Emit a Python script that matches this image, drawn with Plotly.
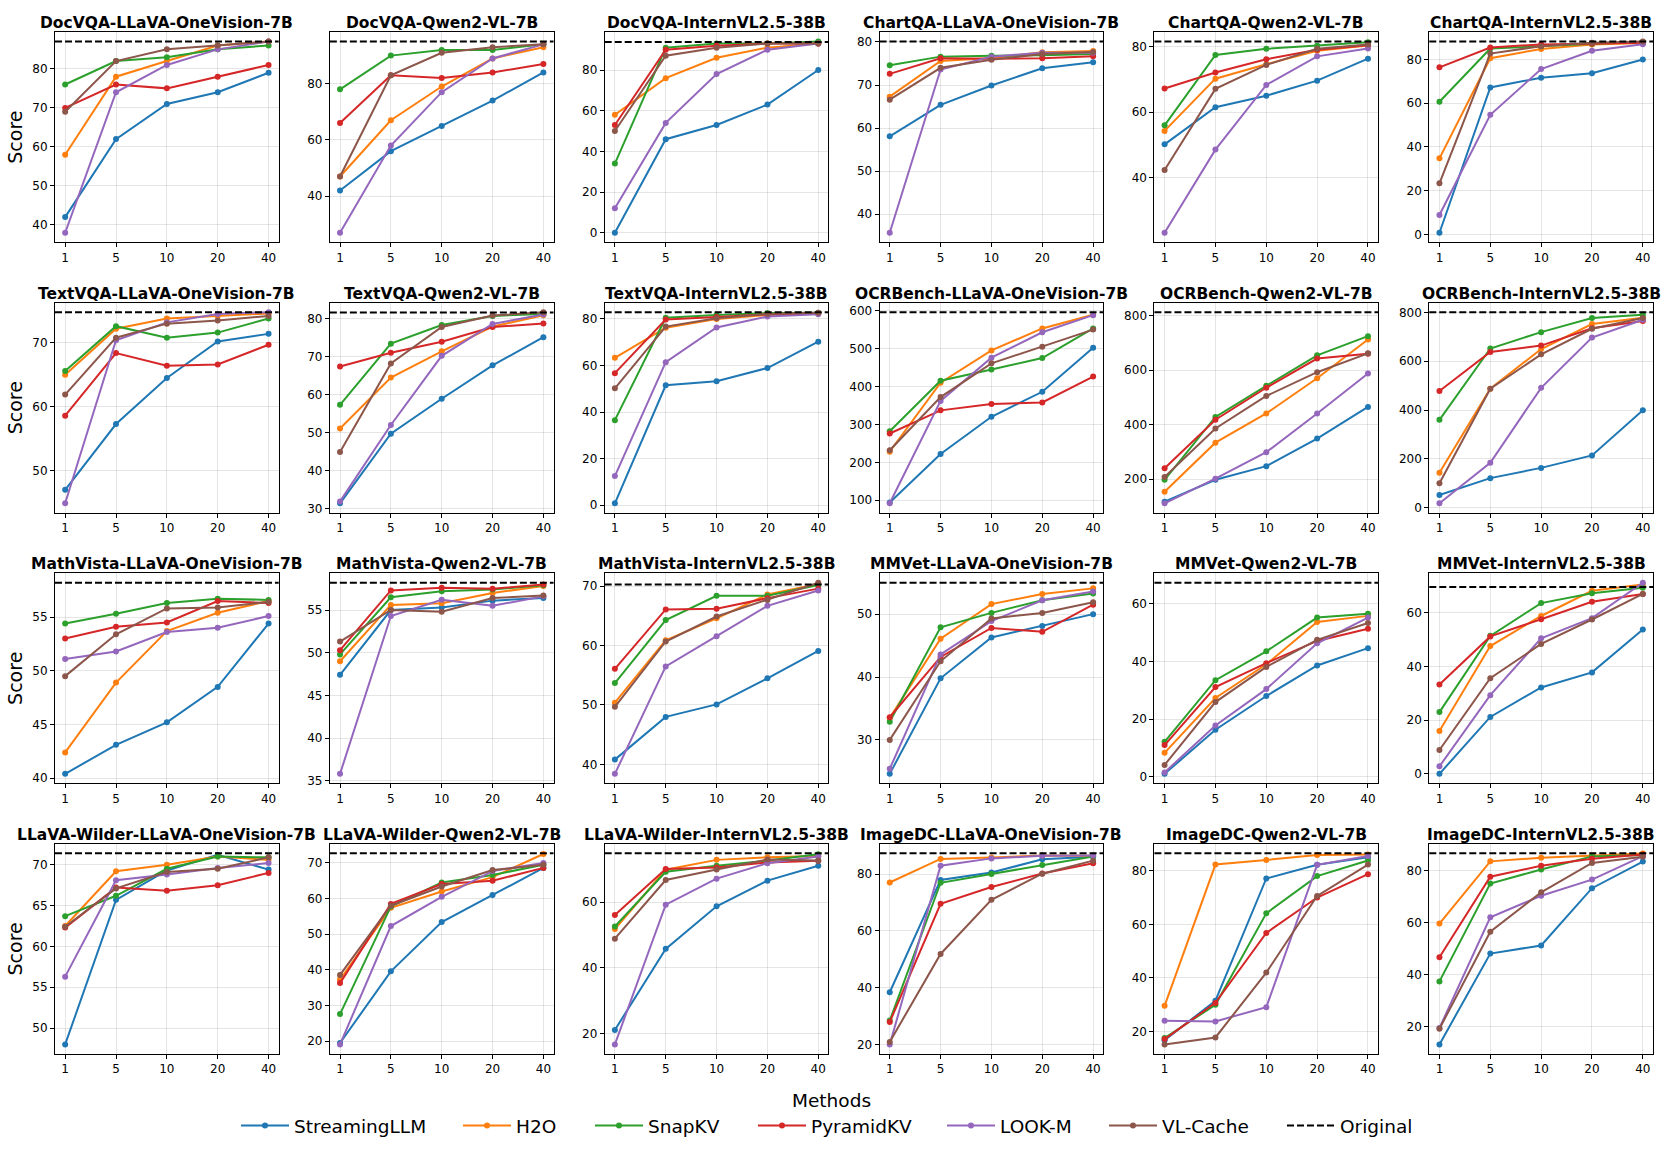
import plotly.graph_objects as go
from plotly.subplots import make_subplots

BUDGETS = ["1", "5", "10", "20", "40"]
BENCHMARKS = ["DocVQA", "ChartQA", "TextVQA", "OCRBench", "MathVista", "MMVet", "LLaVA-Wilder", "ImageDC"]
MODELS = ["LLaVA-OneVision-7B", "Qwen2-VL-7B", "InternVL2.5-38B"]
PANEL_TITLES = [f"{b}-{m}" for b in BENCHMARKS for m in MODELS]

METHODS = ["StreamingLLM", "H2O", "SnapKV", "PyramidKV", "LOOK-M", "VL-Cache"]
COLORS = ["#1f77b4", "#ff7f0e", "#2ca02c", "#d62728", "#9467bd", "#8c564b"]

# one row per panel, in PANEL_TITLES order; columns follow BUDGETS
STREAMINGLLM = [
    [42, 62, 71, 74, 79],
    [42, 56, 65, 74, 84],
    [0, 46, 53, 63, 80],
    [58.1, 65.4, 69.9, 73.9, 75.3],
    [50.2, 61.5, 65.0, 69.6, 76.3],
    [0.8, 67.2, 71.7, 73.7, 80.0],
    [47.0, 57.3, 64.5, 70.2, 71.4],
    [31.5, 49.8, 59.0, 67.8, 75.2],
    [0.8, 51.5, 53.2, 58.9, 70.2],
    [94, 222, 320, 386, 502],
    [118, 198, 248, 349, 465],
    [52, 121, 163, 214, 399],
    [40.4, 43.1, 45.2, 48.5, 54.4],
    [47.4, 55.0, 55.3, 56.1, 56.4],
    [40.8, 48.0, 50.1, 54.5, 59.1],
    [24.6, 39.8, 46.3, 48.1, 50.0],
    [1.0, 16.3, 28.0, 38.6, 44.6],
    [0.0, 21.2, 32.2, 37.8, 53.8],
    [48.0, 65.7, 69.3, 71.2, 69.4],
    [19.5, 39.6, 53.4, 61.0, 68.6],
    [21.2, 45.8, 58.7, 66.5, 71.0],
    [38.4, 78.0, 80.6, 85.3, 86.2],
    [16.8, 31.5, 77.1, 82.2, 85.0],
    [13.3, 48.2, 51.3, 73.3, 83.5],
]
H2O = [
    [58, 78, 82, 86, 87],
    [47, 67, 79, 89, 93],
    [58, 76, 86, 91, 93],
    [67.3, 75.6, 76.3, 77.6, 77.9],
    [54.3, 70.2, 74.6, 78.7, 80.3],
    [34.8, 80.6, 84.8, 86.9, 87.5],
    [65.0, 72.2, 73.8, 74.2, 74.6],
    [51.2, 64.6, 71.5, 78.0, 81.0],
    [63.3, 76.2, 79.9, 81.7, 82.3],
    [228, 410, 495, 553, 589],
    [154, 334, 441, 570, 712],
    [143, 487, 650, 752, 778],
    [42.4, 48.9, 53.7, 55.4, 56.5],
    [49.0, 55.6, 55.8, 57.0, 57.8],
    [50.4, 60.9, 64.6, 68.6, 70.4],
    [33.5, 46.1, 51.6, 53.2, 54.1],
    [8.3, 27.3, 39.0, 53.7, 55.8],
    [16.0, 47.6, 58.8, 68.2, 70.5],
    [62.5, 69.2, 70.0, 71.0, 70.6],
    [37.3, 57.4, 62.0, 66.0, 72.5],
    [51.8, 69.8, 72.8, 73.6, 74.0],
    [77.1, 85.4, 85.9, 86.6, 86.5],
    [29.6, 82.3, 84.0, 85.9, 86.0],
    [59.7, 83.6, 85.0, 85.8, 86.6],
]
SNAPKV = [
    [76, 82, 83, 85, 86],
    [78, 90, 92, 92, 94],
    [34, 91, 93, 93, 94],
    [74.6, 76.6, 76.8, 76.9, 77.2],
    [56.0, 77.4, 79.3, 80.2, 81.3],
    [60.7, 85.0, 86.0, 87.2, 88.0],
    [65.6, 72.6, 70.8, 71.6, 73.8],
    [57.4, 73.5, 78.4, 80.8, 81.3],
    [36.5, 80.5, 81.7, 82.5, 82.6],
    [282, 415, 445, 475, 553],
    [198, 428, 542, 654, 724],
    [360, 652, 719, 777, 790],
    [54.4, 55.3, 56.3, 56.7, 56.6],
    [49.8, 56.5, 57.2, 57.4, 57.9],
    [53.7, 64.3, 68.4, 68.4, 70.2],
    [32.9, 47.9, 50.2, 52.2, 53.3],
    [12.1, 33.5, 43.5, 55.2, 56.5],
    [23.0, 51.4, 63.6, 67.3, 69.3],
    [63.7, 66.2, 69.5, 71.0, 70.9],
    [27.6, 57.8, 64.5, 66.6, 69.5],
    [52.6, 69.2, 71.0, 72.6, 74.5],
    [28.4, 77.0, 80.1, 83.3, 86.3],
    [17.6, 30.0, 64.1, 78.0, 83.8],
    [37.5, 75.1, 80.5, 85.5, 86.0],
]
PYRAMIDKV = [
    [70, 76, 75, 78, 81],
    [66, 83, 82, 84, 87],
    [53, 90, 92, 93, 93],
    [72.6, 76.2, 76.1, 76.2, 76.7],
    [67.2, 72.1, 76.1, 79.0, 80.4],
    [76.4, 85.5, 86.9, 87.3, 87.6],
    [58.6, 68.4, 66.4, 66.6, 69.7],
    [67.5, 71.1, 74.0, 77.9, 78.8],
    [56.7, 79.7, 80.8, 82.0, 82.4],
    [276, 337, 354, 358, 426],
    [240, 418, 535, 642, 660],
    [478, 638, 664, 735, 765],
    [53.0, 54.1, 54.5, 56.5, 56.3],
    [50.3, 57.3, 57.6, 57.5, 58.0],
    [56.1, 66.1, 66.2, 68.0, 69.6],
    [33.6, 43.2, 47.8, 47.2, 51.5],
    [11.0, 31.1, 39.4, 47.1, 51.3],
    [33.3, 51.2, 57.6, 64.1, 67.0],
    [62.3, 67.2, 66.8, 67.5, 69.0],
    [36.3, 58.5, 64.1, 65.0, 68.6],
    [56.1, 70.0, 70.5, 72.0, 72.5],
    [27.9, 69.6, 75.5, 80.3, 83.9],
    [17.2, 30.7, 56.8, 70.0, 78.7],
    [46.8, 77.7, 81.9, 84.6, 86.2],
]
LOOKM = [
    [38, 74, 81, 85, 87],
    [27, 58, 77, 89, 94],
    [12, 54, 78, 90, 93],
    [35.7, 73.6, 76.6, 77.5, 77.5],
    [23.3, 48.6, 68.3, 77.0, 79.4],
    [8.9, 54.7, 75.6, 84.0, 87.0],
    [44.9, 70.4, 73.2, 74.5, 74.8],
    [32.0, 52.1, 70.3, 78.7, 81.2],
    [12.5, 61.4, 76.3, 81.0, 82.0],
    [92, 362, 476, 543, 588],
    [112, 202, 299, 441, 587],
    [18, 184, 491, 697, 770],
    [51.1, 51.8, 53.6, 54.0, 55.1],
    [35.8, 54.3, 56.2, 55.5, 56.6],
    [38.4, 56.5, 61.6, 66.7, 69.3],
    [25.4, 43.6, 48.9, 52.2, 53.6],
    [1.5, 17.8, 30.4, 46.3, 55.2],
    [2.8, 29.3, 50.5, 58.0, 71.2],
    [56.3, 68.1, 68.8, 69.6, 70.2],
    [19.1, 52.3, 60.5, 67.7, 70.0],
    [16.8, 59.2, 67.1, 71.8, 73.8],
    [20.0, 83.0, 85.6, 86.5, 86.6],
    [24.0, 23.8, 29.1, 82.2, 85.5],
    [19.6, 62.1, 70.4, 76.6, 85.6],
]
VLCACHE = [
    [69, 82, 85, 86, 87],
    [47, 83, 91, 93, 94],
    [50, 87, 91, 93, 93],
    [66.6, 74.0, 75.9, 77.2, 77.7],
    [42.4, 67.1, 74.4, 79.3, 80.6],
    [23.4, 82.7, 86.1, 87.6, 88.2],
    [61.9, 70.8, 73.0, 73.5, 74.2],
    [45.0, 68.3, 77.9, 80.9, 81.8],
    [50.2, 76.7, 80.3, 82.1, 82.6],
    [232, 372, 461, 505, 550],
    [208, 386, 505, 592, 661],
    [100, 487, 628, 733, 777],
    [49.5, 53.4, 55.8, 55.9, 56.4],
    [51.3, 55.0, 54.8, 56.4, 56.7],
    [49.7, 60.7, 64.9, 67.7, 70.6],
    [30.0, 42.5, 49.3, 50.2, 51.9],
    [4.1, 25.9, 38.1, 47.5, 53.3],
    [8.9, 35.6, 48.4, 57.5, 67.0],
    [62.4, 67.1, 69.1, 69.5, 70.9],
    [38.6, 58.0, 63.4, 68.0, 69.5],
    [48.9, 66.7, 69.9, 72.9, 72.6],
    [20.9, 51.9, 71.0, 80.2, 84.8],
    [15.2, 17.8, 42.0, 70.6, 82.3],
    [19.3, 56.6, 71.7, 83.0, 85.4],
]
ORIGINAL = [87, 95, 93.8, 80.1, 81.5, 88.2,
            74.8, 81.7, 82.9, 596, 812, 801,
            58.2, 58.2, 70.3, 55.0, 67.3, 69.6,
            71.4, 72.7, 74.8, 87.4, 86.5, 86.7]
Y_TICK_STEP = [10, 20, 20, 10, 20, 20,
               10, 10, 20, 100, 200, 200,
               5, 5, 10, 10, 20, 20,
               5, 10, 20, 20, 20, 20]

SERIES = [STREAMINGLLM, H2O, SNAPKV, PYRAMIDKV, LOOKM, VLCACHE]

FONT = "DejaVu Sans"
W, H = 1661, 1153
ML, MR, MT, MB = 55, 8, 32, 99
PW, PH = W - ML - MR, H - MT - MB

fig = make_subplots(rows=4, cols=6, subplot_titles=PANEL_TITLES,
                    horizontal_spacing=0.032, vertical_spacing=0.059)

LEGEND_IDS = ["legend"] + [f"legend{k}" for k in range(2, 8)]
DASH = "7px,3px"

for p in range(24):
    r, c = p // 6 + 1, p % 6 + 1
    allv = [ORIGINAL[p]]
    for mi, (name, data) in enumerate(zip(METHODS, SERIES)):
        vals = data[p]
        allv += vals
        fig.add_trace(go.Scatter(
            x=BUDGETS, y=vals, mode="lines+markers", name=name,
            legendgroup=name, showlegend=(p == 0), legend=LEGEND_IDS[mi],
            line=dict(color=COLORS[mi], width=2),
            marker=dict(color=COLORS[mi], size=6),
        ), row=r, col=c)
    fig.add_hline(y=ORIGINAL[p], row=r, col=c,
                  line=dict(color="black", width=2, dash=DASH))
    lo, hi = min(allv), max(allv)
    pad = 0.05 * (hi - lo)
    fig.update_yaxes(range=[lo - pad, hi + pad], tick0=0, dtick=Y_TICK_STEP[p], row=r, col=c)

fig.add_trace(go.Scatter(x=[None], y=[None], mode="lines", name="Original",
                         legend=LEGEND_IDS[6],
                         line=dict(color="black", width=2, dash=DASH)), row=1, col=1)

axis_style = dict(showline=True, mirror=True, linecolor="black", linewidth=1,
                  ticks="outside", ticklen=4, tickcolor="black", showgrid=True,
                  gridcolor="rgba(0,0,0,0.1)", gridwidth=1, zeroline=False,
                  tickfont=dict(size=12, color="black", family=FONT))
fig.update_xaxes(type="category", range=[-0.2, 4.2], **axis_style)
fig.update_yaxes(**axis_style)
for r in range(1, 5):
    fig.update_yaxes(title_text="Score", title_font=dict(size=19, family=FONT, color="black"),
                     title_standoff=4, row=r, col=1)

for ann in fig.layout.annotations:
    ann.font = dict(size=15.5, family=FONT, color="black")
    ann.text = f"<b>{ann.text}</b>"
    ann.yshift = -2

# legend title
fig.add_annotation(text="Methods", xref="paper", yref="paper",
                   x=(831 - ML) / PW, y=(H - MB - 1100) / PH,
                   xanchor="center", yanchor="middle", showarrow=False,
                   font=dict(size=18.5, family=FONT, color="black"))

# one legend per entry, placed like the reference's single-row legend
handle_px = [244, 466, 598, 761, 950, 1112, 1290]
legends = {}
for k, lid in enumerate(LEGEND_IDS):
    legends[lid] = dict(orientation="h", x=(handle_px[k] - 8 - ML) / PW, xanchor="left",
                        y=(H - MB - 1126) / PH, yanchor="middle", itemwidth=48,
                        bgcolor="rgba(0,0,0,0)", borderwidth=0,
                        font=dict(size=18.5, family=FONT, color="black"))

fig.update_layout(
    width=W, height=H,
    margin=dict(l=ML, r=MR, t=MT, b=MB),
    paper_bgcolor="white", plot_bgcolor="white",
    font=dict(family=FONT, color="black"),
    **legends,
)
fig.write_html("out.html", post_script="document.body.style.margin='0';",
               config={"displayModeBar": False})
